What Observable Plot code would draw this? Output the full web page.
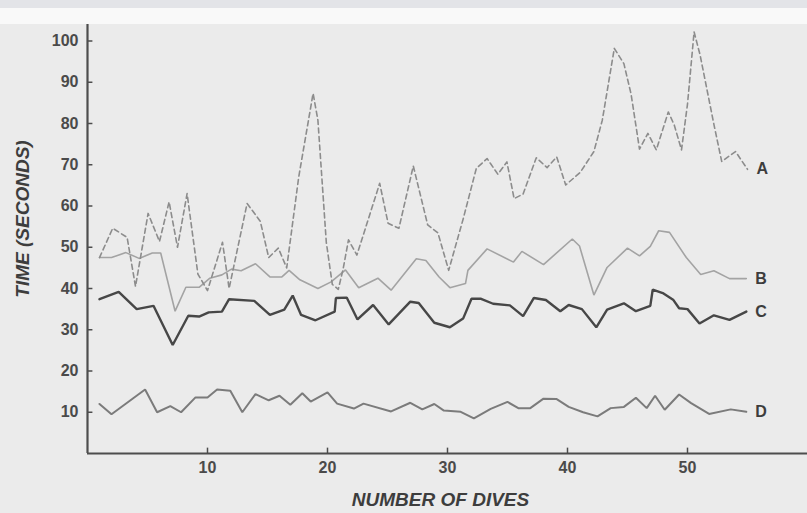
<!DOCTYPE html>
<html><head><meta charset="utf-8">
<script src="https://cdn.jsdelivr.net/npm/d3@7"></script>
<script src="https://cdn.jsdelivr.net/npm/@observablehq/plot@0.6"></script>
<style>
html,body{margin:0;padding:0;}
body{width:807px;height:513px;overflow:hidden;background:linear-gradient(to bottom,#e3e4e8 0,#e3e4e8 8px,#f9f9f9 8px,#f9f9f9 24px,#ebebeb 24px);}
#chart svg{display:block;}
</style></head><body><div id="chart"></div>
<script>
const seriesNames = ["A", "B", "C", "D"];
const xTicks = [10, 20, 30, 40, 50];
const yTicks = [10, 20, 30, 40, 50, 60, 70, 80, 90, 100];
const xTitle = "NUMBER OF DIVES";
const yTitle = "TIME (SECONDS)";

const diveA = [1,2.1,3.3,4,5.05,6,6.8,7.5,8.3,9.2,10,11.25,11.8,13.3,14.4,15.1,15.9,16.6,17.6,18.8,19.2,19.9,20.4,20.9,21.3,21.75,22.45,24.35,25.05,25.95,27.15,28.35,29.2,30.1,31.3,32.4,33.3,34.2,34.95,35.55,36.3,37.4,38.3,39.1,39.85,41.05,42.2,42.9,43.9,44.7,45.3,46,46.7,47.4,48.4,48.9,49.5,50,50.55,51.05,52.2,52.85,54,55];
const timeA = [47.5,54.6,52.4,40.5,58.2,51.4,61,50,63,43.5,39.5,51.2,40,60.6,56.3,47.5,49.8,45,67,87.3,80.8,51.2,41,39.8,44.7,51.8,48.1,65.5,55.8,54.6,69.7,55.4,53.5,44.4,56.8,69.1,71.5,67.7,70.7,61.8,62.9,71.7,69.3,71.9,65.1,68.1,73.2,80.8,98.2,94.5,87.1,73.8,77.6,73.6,82.8,79.6,73.6,84.7,102.2,96.6,79.8,70.8,73.2,68.9];

const diveB = [1,2,3.2,4.3,5.4,6.1,7.3,8.2,9.3,10.2,11.2,12,12.8,14,15.2,16.2,16.8,17.7,19.2,20.3,21.5,22.6,24.2,25.3,27.4,28.2,29.3,30.2,31.5,31.7,33.3,35.5,36.2,38,40.4,41,42.2,43.3,45,46,46.9,47.6,48.5,49.9,51.1,52.2,53.5,54.9];
const timeB = [47.5,47.5,48.7,47.3,48.6,48.6,34.5,40.3,40.3,42.5,43.3,44.7,44.3,46,42.8,42.8,44.4,42.1,40,41.6,44.5,40.2,42.5,39.6,47.2,46.8,42.8,40.2,41.2,44.4,49.6,46.4,49,45.8,52,50.3,38.4,45.1,49.8,47.9,50.2,54,53.6,47.5,43.4,44.3,42.4,42.4];

const diveC = [1,2.6,4.1,5.5,7.1,8.4,9.3,10.1,11.2,11.8,13.9,15.2,16.4,17.1,17.8,19,20.6,20.7,21.6,22.5,23.8,25.1,26.9,27.6,28.9,30.2,31.3,32,32.8,33.8,35.2,36.3,37.2,38.2,39.4,40.1,41.2,42.4,43.3,44.7,45.7,46.9,47.1,48,48.8,49.3,50,51,52.2,53.5,54.9];
const timeC = [37.4,39.2,35,35.8,26.3,33.4,33.2,34.2,34.4,37.4,37,33.6,34.9,38.3,33.6,32.3,34.4,37.7,37.8,32.5,36,31.3,36.8,36.5,31.7,30.6,32.7,37.5,37.5,36.3,35.9,33.3,37.7,37.2,34.5,36,35,30.6,34.9,36.4,34.5,35.8,39.7,38.8,37.3,35.2,35,31.5,33.5,32.4,34.4];

const diveD = [1,2,4.8,5.8,6.9,7.8,9,10,10.8,11.9,12.9,14,15.1,16,16.9,17.9,18.6,20,20.8,22.2,23,25.3,26.9,27.9,28.9,29.7,31.1,32.2,33.6,35,35.9,36.9,38,39.1,40.1,41.3,42.5,43.6,44.7,45.7,46.6,47.3,48.1,49.3,50.3,51.8,53.6,54.9];
const timeD = [12,9.5,15.5,10,11.5,10,13.6,13.6,15.5,15.2,10,14.4,12.9,14,11.8,14.6,12.6,14.8,12.1,10.9,12.1,10.2,12.3,10.7,12,10.4,10.1,8.5,10.8,12.5,11,11,13.3,13.2,11.3,10,9,11,11.3,13.5,11,14,10.6,14.3,12.2,9.6,10.7,10.1];

const build = (name, dives, times) => dives.map((d, i) => ({series: name, dive: d, time: times[i]}));
const dataA = build("A", diveA, timeA);
const dataB = build("B", diveB, timeB);
const dataC = build("C", diveC, timeC);
const dataD = build("D", diveD, timeD);
const ends = [dataA, dataB, dataC, dataD].map(d => d[d.length - 1]);

const font = "'Liberation Sans', Arial, Helvetica, sans-serif";
const axisColor = "#4d4d4d";

const chart = Plot.plot({
  width: 807,
  height: 513,
  marginLeft: 87,
  marginRight: 0,
  marginTop: 24,
  marginBottom: 60,
  style: {fontFamily: font, fontSize: "16px", fontWeight: "bold", color: "#4a4a4a", background: "transparent", overflow: "visible"},
  x: {domain: [0, 60], ticks: xTicks, tickSize: 0, tickPadding: 8, label: null},
  y: {domain: [0, 104], ticks: yTicks, tickSize: 0, tickPadding: 9, label: null},
  marks: [
    Plot.ruleY(yTicks, {x1: 0, x2: 0.45, stroke: axisColor, strokeWidth: 1.5}),
    Plot.ruleX(xTicks, {y1: 0, y2: 1.3, stroke: axisColor, strokeWidth: 1.5}),
    Plot.line(dataD, {x: "dive", y: "time", stroke: "#7b7b7b", strokeWidth: 2, strokeLinejoin: "miter"}),
    Plot.line(dataC, {x: "dive", y: "time", stroke: "#474747", strokeWidth: 2.4, strokeLinejoin: "miter"}),
    Plot.line(dataB, {x: "dive", y: "time", stroke: "#a3a3a3", strokeWidth: 1.6, strokeLinejoin: "miter"}),
    Plot.line(dataA, {x: "dive", y: "time", stroke: "#8c8c8c", strokeWidth: 1.6, strokeDasharray: "5,3.5"}),
    Plot.ruleY([0], {stroke: axisColor, strokeWidth: 2.2}),
    Plot.ruleX([0], {stroke: axisColor, strokeWidth: 2.2}),
    Plot.text(ends, {x: "dive", y: "time", text: "series", dx: 9, textAnchor: "start", fontSize: 16, fontWeight: "bold", fill: "#3d3d3d"}),
    Plot.text([yTitle], {frameAnchor: "left", textAnchor: "middle", lineAnchor: "middle", rotate: -90, dx: -65, dy: -20, fontSize: 19, fontStyle: "italic", fontWeight: "bold", fill: "#3d3d3d"}),
    Plot.text([xTitle], {frameAnchor: "bottom", textAnchor: "middle", lineAnchor: "middle", dx: -7, dy: 46, fontSize: 19, fontStyle: "italic", fontWeight: "bold", fill: "#3d3d3d"})
  ]
});
document.getElementById("chart").appendChild(chart);
</script></body></html>
